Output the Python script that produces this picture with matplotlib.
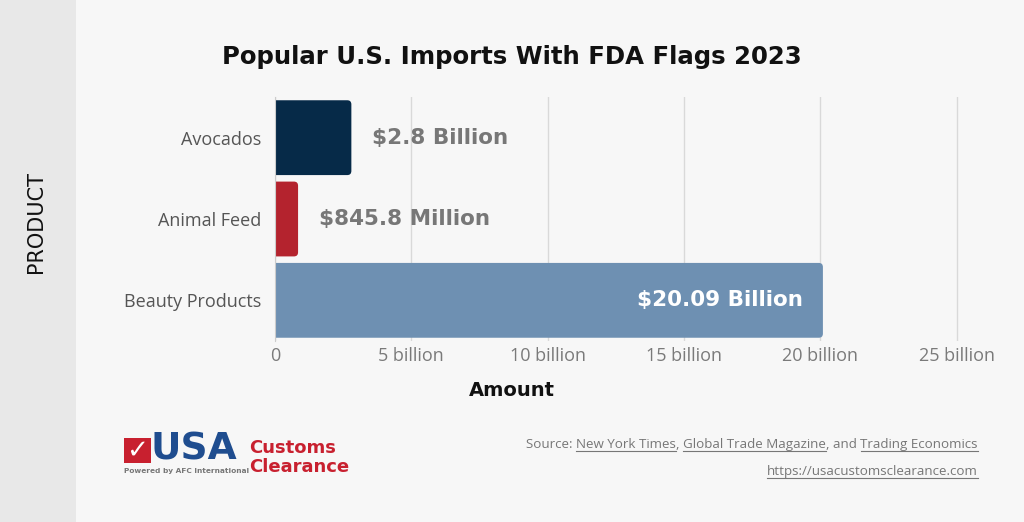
import matplotlib
matplotlib.use("Agg")
import matplotlib.pyplot as plt
from matplotlib.patches import Rectangle, FancyBboxPatch

products = ["Avocados", "Animal Feed", "Beauty Products"]
values = [2.8, 0.8458, 20.09]  # billions of dollars
value_labels = ["$2.8 Billion", "$845.8 Million", "$20.09 Billion"]
bar_colors = ["#062a48", "#b4232e", "#6e90b2"]
x_ticks = [0, 5, 10, 15, 20, 25]
x_tick_labels = ["0", "5 billion", "10 billion", "15 billion", "20 billion", "25 billion"]

title_font = "DejaVu Sans"
body_font = "Open Sans"

fig = plt.figure(figsize=(10.24, 5.22), dpi=100)
fig.patch.set_facecolor("#f7f7f7")
# grey strip on the left
fig.patches.append(Rectangle((0, 0), 76 / 1024, 1, transform=fig.transFigure,
                             facecolor="#e8e8e8", edgecolor="none", zorder=0))

ax = fig.add_axes([275 / 1024, 1 - 341 / 522, 690 / 1024, 244 / 522])
ax.set_facecolor("#f7f7f7")

bars = ax.barh(products, values, height=0.92, color=bar_colors, zorder=3)
# rounded right corners
for b in bars:
    b.set_visible(False)
    x, y = b.get_x(), b.get_y()
    w, h = b.get_width(), b.get_height()
    ax.add_patch(FancyBboxPatch((x - 0.3, y), w + 0.3, h,
                                boxstyle="round,pad=0,rounding_size=0.15",
                                mutation_aspect=0.34,
                                facecolor=b.get_facecolor(), edgecolor="none",
                                zorder=3, clip_on=True))

ax.set_xlim(0, 25.3)
ax.set_ylim(2.5, -0.5)
ax.set_xticks(x_ticks)
ax.set_xticklabels(x_tick_labels, fontsize=13, color="#7a7a7a", family=body_font)
ax.set_yticks(range(len(products)))
ax.set_yticklabels(products, fontsize=13, color="#555555", family=body_font)
ax.tick_params(axis="y", length=0, pad=10)
ax.tick_params(axis="x", length=0, pad=4)
ax.grid(axis="x", color="#d9d9d9", linewidth=1, zorder=0)
for s in ["top", "right", "bottom"]:
    ax.spines[s].set_visible(False)
ax.spines["left"].set_color("#cccccc")
ax.spines["left"].set_zorder(4)

for i, (v, lab) in enumerate(zip(values, value_labels)):
    if v > 10:
        ax.text(v - 0.75, i, lab, ha="right", va="center", fontsize=15.5,
                fontweight="bold", color="white", family=title_font, zorder=5)
    else:
        ax.text(v + 0.75, i, lab, ha="left", va="center", fontsize=15.5,
                fontweight="bold", color="#777777", family=title_font, zorder=5)

ax.set_xlabel("Amount", fontsize=14, fontweight="bold", color="#111111",
              family=title_font)
ax.xaxis.set_label_coords((512 - 275) / 690, -0.165)

fig.text(512 / 1024, 1 - 57 / 522, "Popular U.S. Imports With FDA Flags 2023",
         ha="center", va="center", fontsize=17.6, fontweight="bold", color="#111111",
         family=title_font)
fig.text(36 / 1024, 1 - 222 / 522, "PRODUCT", rotation=90, ha="center", va="center",
         fontsize=15, color="#111111", family=title_font)

# logo
fig.patches.append(Rectangle((124 / 1024, 1 - 463 / 522), 27 / 1024, 25 / 522,
                             transform=fig.transFigure, facecolor="#c8202f",
                             edgecolor="none"))
fig.text(137.5 / 1024, 1 - 451 / 522, "✓", ha="center", va="center", fontsize=19,
         fontweight="bold", color="white", family="DejaVu Sans")
fig.text(151 / 1024, 1 - 450 / 522, "USA", ha="left", va="center", fontsize=27,
         fontweight="heavy", color="#1f4d8f", family=title_font)
fig.text(124 / 1024, 1 - 471 / 522, "Powered by AFC International", ha="left",
         va="center", fontsize=5.3, fontweight="bold", color="#777777", family=title_font)
fig.text(249 / 1024, 1 - 448 / 522, "Customs", ha="left", va="center", fontsize=13,
         fontweight="bold", color="#c8202f", family=title_font)
fig.text(249 / 1024, 1 - 467 / 522, "Clearance", ha="left", va="center", fontsize=13,
         fontweight="bold", color="#c8202f", family=title_font)

# source lines, some pieces underlined
fig.canvas.draw()
renderer = fig.canvas.get_renderer()


def draw_line(pieces, right_px, y_px):
    texts = []
    for s, ul in pieces:
        t = fig.text(0, 1 - y_px / 522, s, ha="left", va="baseline", fontsize=9.6,
                     color="#777777", family=body_font)
        texts.append((t, ul))
    widths = [t.get_window_extent(renderer).width for t, _ in texts]
    x = right_px - sum(widths)
    for (t, ul), w in zip(texts, widths):
        t.set_x(x / 1024)
        if ul:
            fig.add_artist(plt.Line2D([x / 1024, (x + w) / 1024],
                                      [1 - (y_px + 3) / 522] * 2,
                                      transform=fig.transFigure, color="#777777",
                                      linewidth=0.8))
        x += w


draw_line([("Source: ", False), ("New York Times", True), (", ", False),
           ("Global Trade Magazine", True), (", and ", False),
           ("Trading Economics", True)], 978, 448)
draw_line([("https://usacustomsclearance.com", True)], 978, 475)

fig.savefig("out.png", dpi=100, facecolor=fig.get_facecolor())
